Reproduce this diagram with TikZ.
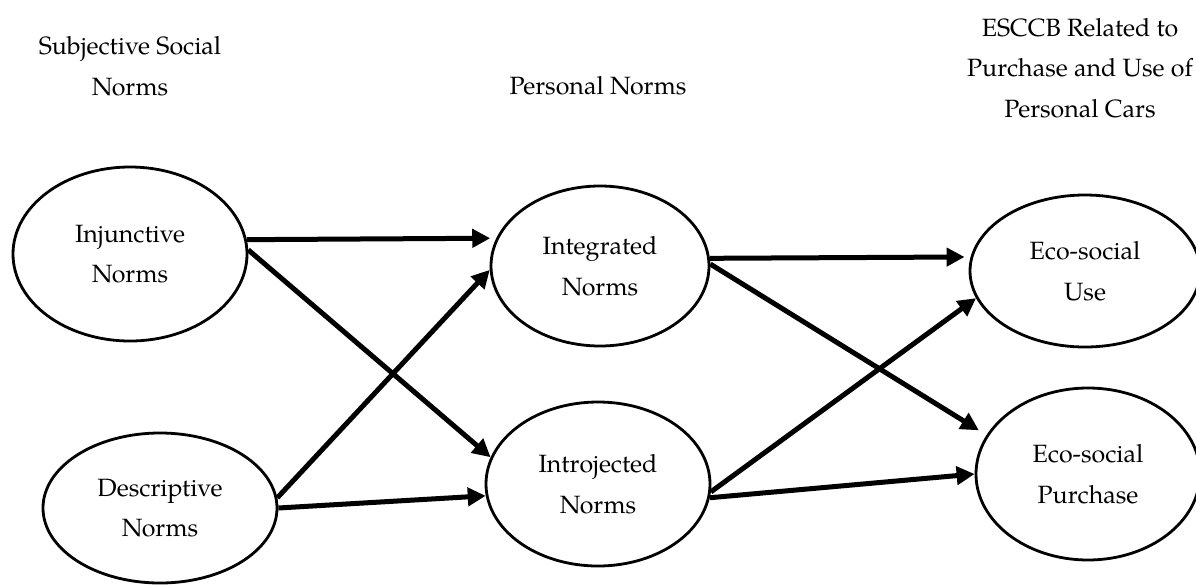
\documentclass[tikz,border=0pt]{standalone}
\usepackage{fontspec}
\setmainfont{TeX Gyre Pagella}
\usetikzlibrary{shapes.geometric,arrows.meta}
\begin{document}
\begin{tikzpicture}[x=1pt,y=-1pt,
  every node/.style={font=\fontsize{25}{40.5}\selectfont, align=center},
  construct/.style={ellipse, draw, line width=2.8pt, inner sep=0pt},
  arrowline/.style={line width=5pt, -{Triangle[length=18pt,width=18pt]}}
]
\useasboundingbox (0,0) rectangle (1196,584);

% column titles
\node (t1) at (130,66) {Subjective Social\\Norms};
\node (t2) at (598,86) {Personal Norms};
\node (t3) at (1080,68) {ESCCB Related to\\Purchase and Use of\\Personal Cars};

% constructs
\node[construct, minimum width=234pt, minimum height=174pt] (inj) at (130,254) {Injunctive\\Norms};
\node[construct, minimum width=234pt, minimum height=150pt] (des) at (160,508) {Descriptive\\Norms};
\node[construct, minimum width=218pt, minimum height=160pt] (intg) at (600,266) {Integrated\\Norms};
\node[construct, minimum width=224pt, minimum height=164pt] (intr) at (598,484) {Introjected\\Norms};
\node[construct, minimum width=230pt, minimum height=152pt] (use) at (1085,271) {Eco-social\\Use};
\node[construct, minimum width=224pt, minimum height=172pt] (pur) at (1088,474) {Eco-social\\Purchase};

% paths
\draw[arrowline, shorten >=6pt] (inj.7) -- (intg.165.8);
\draw[arrowline] (inj.2) -- (intr.166);
\draw[arrowline] (des.5) -- (intg.182);
\draw[arrowline] (des.0) -- (intr.186);
\draw[arrowline, shorten >=6pt] (intg.4) -- (use.173.8);
\draw[arrowline, shorten >=9pt] (intg.1) -- (pur.159);
\draw[arrowline] (intr.-4) -- (use.194);
\draw[arrowline] (intr.-7) -- (pur.west);
\end{tikzpicture}
\end{document}
